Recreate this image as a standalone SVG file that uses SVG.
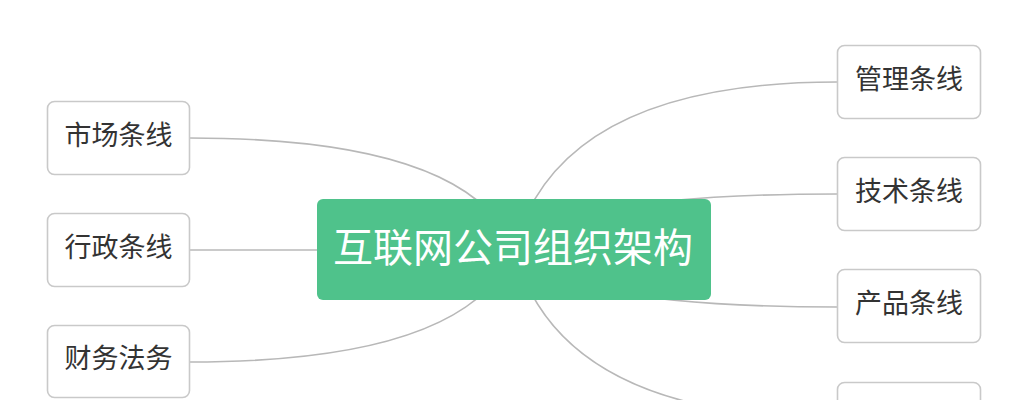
<svg xmlns="http://www.w3.org/2000/svg" width="1028" height="400" viewBox="0 0 1028 400">
<style>
.bg{fill:#ffffff}
.link{fill:none;stroke:#b8b8b8;stroke-width:1.6}
.box{fill:#ffffff;stroke:#c9c9c9;stroke-width:1.6}
.lbl{font-family:"Noto Sans CJK SC","Noto Sans",sans-serif;font-size:27px;fill:#333333;text-anchor:middle;dominant-baseline:central}
.root{fill:#4fc28b}
.rootlbl{font-family:"Noto Sans CJK SC","Noto Sans",sans-serif;font-size:40px;fill:#ffffff;text-anchor:middle;dominant-baseline:central}
</style>
<rect class="bg" x="0" y="0" width="1028" height="400"/>
<g id="connectors">
<path class="link" d="M190 138 Q470 138 514 249"/>
<path class="link" d="M190 250 L514 250"/>
<path class="link" d="M190 362 Q470 362 514 249"/>
<path class="link" d="M837 82 Q559 82 514 249"/>
<path class="link" d="M837 194 Q559 194 514 249"/>
<path class="link" d="M837 307 Q559 307 514 249"/>
<path class="link" d="M837 418 Q559 418 514 249"/>
</g>
<g id="root">
<rect class="root" x="317" y="199" width="394" height="101" rx="6"/>
<text class="rootlbl" x="513" y="245">互联网公司组织架构</text>
</g>
<g id="n-market">
<rect class="box" x="47.5" y="101.5" width="142" height="73" rx="7"/>
<text class="lbl" x="118.5" y="133">市场条线</text>
</g>
<g id="n-admin">
<rect class="box" x="47.5" y="213.5" width="142" height="73" rx="7"/>
<text class="lbl" x="118.5" y="245">行政条线</text>
</g>
<g id="n-finance">
<rect class="box" x="47.5" y="325.5" width="142" height="72" rx="7"/>
<text class="lbl" x="118.5" y="356">财务法务</text>
</g>
<g id="n-manage">
<rect class="box" x="837.5" y="45.5" width="143" height="73" rx="7"/>
<text class="lbl" x="909" y="77">管理条线</text>
</g>
<g id="n-tech">
<rect class="box" x="837.5" y="157.5" width="143" height="73" rx="7"/>
<text class="lbl" x="909" y="189">技术条线</text>
</g>
<g id="n-product">
<rect class="box" x="837.5" y="269.5" width="143" height="73" rx="7"/>
<text class="lbl" x="909" y="301">产品条线</text>
</g>
<g id="n-more">
<rect class="box" x="837.5" y="382.5" width="143" height="73" rx="7"/>
</g>
</svg>
